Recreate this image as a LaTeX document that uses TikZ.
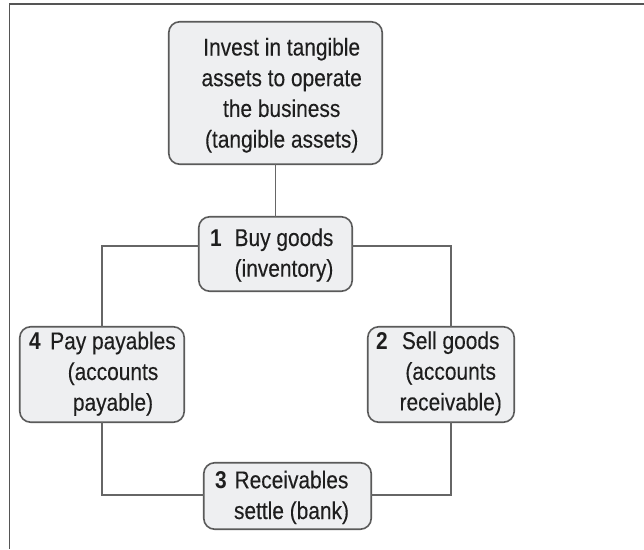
\documentclass[tikz,border=0pt]{standalone}
\usepackage{fontspec}
\setmainfont{Liberation Sans}[FakeStretch=0.86,FakeBold=0.2]
\newfontfamily\numfont{Liberation Sans Bold}[FakeStretch=0.86]
\definecolor{boxfill}{HTML}{EEEFF1}
\definecolor{boxline}{HTML}{5A5A5A}
\definecolor{linkgray}{HTML}{666666}
\definecolor{framegray}{HTML}{555555}
\definecolor{ink}{HTML}{1E1E1E}
\begin{document}
\begin{tikzpicture}[x=1pt,y=-1pt,
  box/.style={draw=boxline, fill=boxfill, line width=1.6pt, rounded corners=11pt,
    inner sep=0pt, outer sep=0pt},
  link/.style={draw=linkgray, line width=1.8pt},
  frame/.style={draw=framegray, line width=1.8pt},
  body/.style={inner sep=0pt, anchor=base, text=ink,
    font=\fontsize{24.3}{30.7}\selectfont},
  num/.style={inner sep=0pt, anchor=base west, text=ink,
    font=\fontsize{24.3}{30.7}\numfont},
]
\useasboundingbox (0,0) rectangle (644,549);

% outer frame (top and left edges only)
\draw[frame] (644,4) -- (9.5,4) -- (9.5,549);

% boxes
\node[box, minimum width=213.5pt, minimum height=142.5pt] (invest) at (275.5,93) {};
\node[box, minimum width=153.5pt, minimum height=74.5pt] (buy) at (275.5,254) {};
\node[box, minimum width=164.5pt, minimum height=95.5pt] (pay) at (102,374.5) {};
\node[box, minimum width=146.5pt, minimum height=95.5pt] (sell) at (441,374.5) {};
\node[box, minimum width=167.5pt, minimum height=66.5pt] (settle) at (287.5,496) {};

% connectors of the cycle
\draw[link] (invest.south) -- (buy.north);
\draw[link] ([yshift=8pt]buy.west) -| (pay.north);
\draw[link] ([yshift=8pt]buy.east) -| ([xshift=10pt]sell.north);
\draw[link] (pay.south) |- ([yshift=1pt]settle.west);
\draw[link] ([xshift=10pt]sell.south) |- ([yshift=1pt]settle.east);

% box texts
\node[body] (investtext) at (281.7,55.5)
  {\begin{tabular}[t]{@{}c@{}}Invest in tangible\\assets to operate\\the business\\(tangible assets)\end{tabular}};

\node[num] (buynum) at (210,246) {1};
\node[body] (buytext) at (284,246)
  {\begin{tabular}[t]{@{}c@{}}Buy goods\\(inventory)\end{tabular}};

\node[num] (sellnum) at (376,349) {2};
\node[body] (selltext) at (450.7,349)
  {\begin{tabular}[t]{@{}c@{}}Sell goods\\(accounts\\receivable)\end{tabular}};

\node[num] (settlenum) at (215,488.3) {3};
\node[body] (settletext) at (291.5,488.3)
  {\begin{tabular}[t]{@{}c@{}}Receivables\\settle (bank)\end{tabular}};

\node[num] (paynum) at (29,349.3) {4};
\node[body] (paytext) at (113,349.3)
  {\begin{tabular}[t]{@{}c@{}}Pay payables\\(accounts\\payable)\end{tabular}};
\end{tikzpicture}
\end{document}
